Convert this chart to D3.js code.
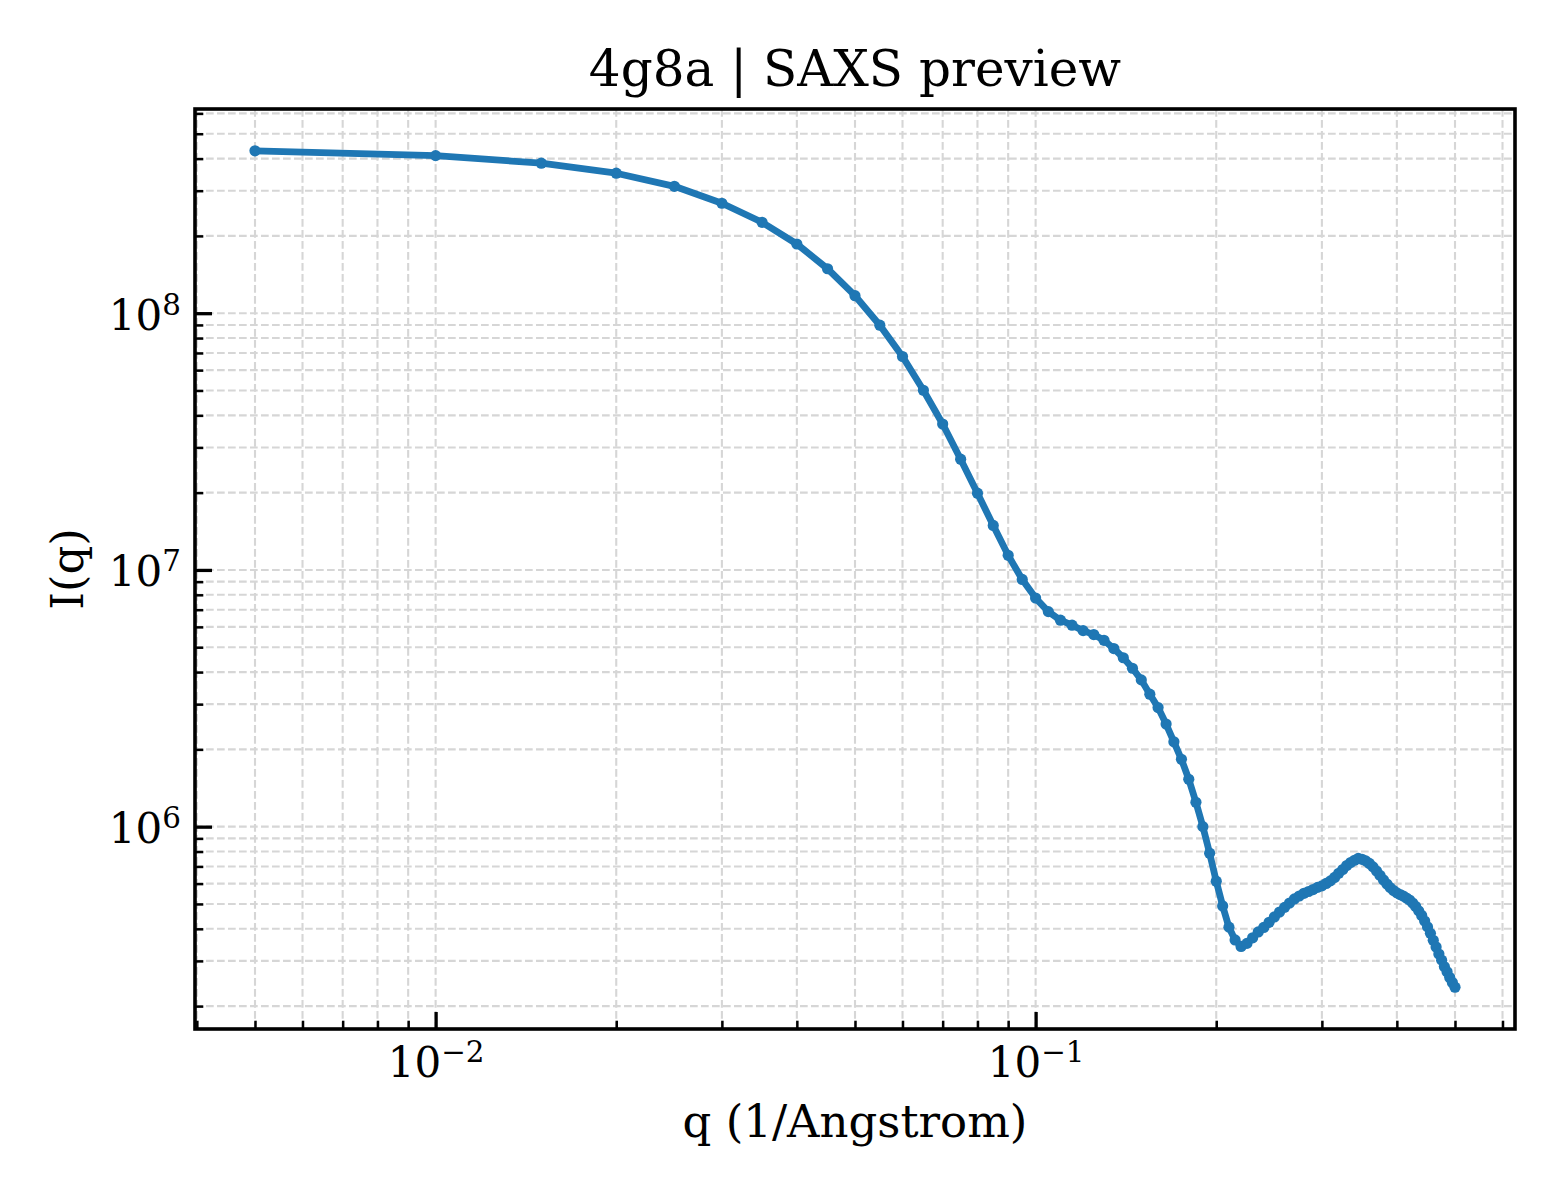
<!DOCTYPE html>
<html>
<head>
<meta charset="utf-8">
<script src="https://cdn.jsdelivr.net/npm/d3@7/dist/d3.min.js"></script>
<style>
  html, body { margin: 0; padding: 0; background: #ffffff; }
  svg { display: block; }
  text { font-family: "DejaVu Serif", serif; fill: #000; }
</style>
</head>
<body>
<svg id="chart" width="1560" height="1200"></svg>
<script>
// ---------------- data ----------------
const title = "4g8a | SAXS preview";
const xLabel = "q (1/Angstrom)";
const yLabel = "I(q)";

const q = [
  0.005, 0.010, 0.015, 0.020, 0.025, 0.030, 0.035, 0.040, 0.045, 0.050,
  0.055, 0.060, 0.065, 0.070, 0.075, 0.080, 0.085, 0.090, 0.095, 0.100,
  0.105, 0.110, 0.115, 0.120, 0.125, 0.130, 0.135, 0.140, 0.145, 0.150,
  0.155, 0.160, 0.165, 0.170, 0.175, 0.180, 0.185, 0.190, 0.195, 0.200,
  0.205, 0.210, 0.215, 0.220, 0.225, 0.230, 0.235, 0.240, 0.245, 0.250,
  0.255, 0.260, 0.265, 0.270, 0.275, 0.280, 0.285, 0.290, 0.295, 0.300,
  0.305, 0.310, 0.315, 0.320, 0.325, 0.330, 0.335, 0.340, 0.345, 0.350,
  0.355, 0.360, 0.365, 0.370, 0.375, 0.380, 0.385, 0.390, 0.395, 0.400,
  0.405, 0.410, 0.415, 0.420, 0.425, 0.430, 0.435, 0.440, 0.445, 0.450,
  0.455, 0.460, 0.465, 0.470, 0.475, 0.480, 0.485, 0.490, 0.495, 0.500
];

const intensity = [
  4.29e8, 4.11e8, 3.84e8, 3.51e8, 3.12e8, 2.68e8, 2.26e8, 1.86e8, 1.49e8, 1.17e8,
  8.98e7, 6.78e7, 5.01e7, 3.70e7, 2.70e7, 1.99e7, 1.49e7, 1.14e7, 9.18e6, 7.77e6,
  6.88e6, 6.37e6, 6.09e6, 5.80e6, 5.60e6, 5.32e6, 4.94e6, 4.55e6, 4.14e6, 3.73e6,
  3.28e6, 2.91e6, 2.51e6, 2.14e6, 1.83e6, 1.53e6, 1.245e6, 1.00e6, 7.88e5, 6.13e5,
  4.91e5, 4.06e5, 3.62e5, 3.415e5, 3.51e5, 3.69e5, 3.89e5, 4.05e5, 4.24e5, 4.45e5,
  4.65e5, 4.85e5, 5.04e5, 5.23e5, 5.37e5, 5.50e5, 5.59e5, 5.69e5, 5.80e5, 5.88e5,
  6.01e5, 6.15e5, 6.34e5, 6.58e5, 6.81e5, 7.06e5, 7.25e5, 7.40e5, 7.52e5, 7.46e5,
  7.36e5, 7.19e5, 6.97e5, 6.72e5, 6.46e5, 6.20e5, 5.98e5, 5.79e5, 5.64e5, 5.52e5,
  5.44e5, 5.37e5, 5.27e5, 5.18e5, 5.04e5, 4.89e5, 4.70e5, 4.51e5, 4.29e5, 4.07e5,
  3.84e5, 3.61e5, 3.40e5, 3.19e5, 3.02e5, 2.85e5, 2.72e5, 2.585e5, 2.47e5, 2.37e5
];

const xMajorTicks = [0.01, 0.1];
const xMajorExponents = ["\u22122", "\u22121"];
const yMajorTicks = [1e6, 1e7, 1e8];
const yMajorExponents = ["6", "7", "8"];

// ---------------- layout ----------------
const W = 1560, H = 1200;
const plot = { left: 195, top: 109, right: 1515, bottom: 1029 };
const lineColor = "#1f77b4";
const gridColor = "#d6d6d6";
const tickFont = 42;
const labelFont = 45;

const svg = d3.select("#chart");

// log-space 5% margins like matplotlib autoscale
function logPadded(ext) {
  const a = Math.log10(ext[0]), b = Math.log10(ext[1]);
  const m = (b - a) * 0.05;
  return [Math.pow(10, a - m), Math.pow(10, b + m)];
}
const x = d3.scaleLog().domain(logPadded(d3.extent(q))).range([plot.left, plot.right]);
const y = d3.scaleLog().domain(logPadded(d3.extent(intensity))).range([plot.bottom, plot.top]);

function minorTicks(scale) {
  const [d0, d1] = scale.domain();
  const out = [];
  for (let k = Math.floor(Math.log10(d0)); k <= Math.ceil(Math.log10(d1)); k++) {
    for (let m = 2; m <= 9; m++) {
      const v = m * Math.pow(10, k);
      if (v >= d0 && v <= d1) out.push(v);
    }
  }
  return out;
}
const xMinor = minorTicks(x);
const yMinor = minorTicks(y);

// ---------------- grid ----------------
const grid = svg.append("g").attr("class", "grid");
grid.selectAll("line.gx").data(xMajorTicks.concat(xMinor)).join("line")
  .attr("x1", d => x(d)).attr("x2", d => x(d))
  .attr("y1", plot.top).attr("y2", plot.bottom)
  .attr("stroke", gridColor).attr("stroke-width", 2.1).attr("stroke-dasharray", "7.7,3.3");
grid.selectAll("line.gy").data(yMajorTicks.concat(yMinor)).join("line")
  .attr("y1", d => y(d)).attr("y2", d => y(d))
  .attr("x1", plot.left).attr("x2", plot.right)
  .attr("stroke", gridColor).attr("stroke-width", 2.1).attr("stroke-dasharray", "7.7,3.3");

// ---------------- data line + markers ----------------
const pts = q.map((v, i) => [v, intensity[i]]);
const line = d3.line().x(d => x(d[0])).y(d => y(d[1]));
svg.append("path").datum(pts)
  .attr("d", line)
  .attr("fill", "none")
  .attr("stroke", lineColor)
  .attr("stroke-width", 6.8)
  .attr("stroke-linejoin", "round")
  .attr("stroke-linecap", "square");
svg.append("g").selectAll("circle").data(pts).join("circle")
  .attr("cx", d => x(d[0])).attr("cy", d => y(d[1]))
  .attr("r", 5.6).attr("fill", lineColor);

// ---------------- axes ----------------
const gxMinor = svg.append("g").attr("transform", `translate(0,${plot.bottom})`)
  .call(d3.axisBottom(x).tickValues(xMinor).tickSizeInner(-8.3).tickSizeOuter(0).tickFormat(() => ""));
gxMinor.selectAll("line").attr("stroke", "#000").attr("stroke-width", 2.5);

const gxMajor = svg.append("g").attr("transform", `translate(0,${plot.bottom})`)
  .call(d3.axisBottom(x).tickValues(xMajorTicks).tickSizeInner(-17).tickSizeOuter(0).tickFormat(() => ""));
gxMajor.selectAll("line").attr("stroke", "#000").attr("stroke-width", 3.3);
gxMajor.selectAll(".tick text").each(function (d, i) {
  const t = d3.select(this);
  t.attr("y", 47.5).attr("dy", 0).attr("font-size", tickFont).attr("text-anchor", "middle")
   .attr("font-family", "DejaVu Serif").attr("fill", "#000");
  t.append("tspan").text("10");
  t.append("tspan").attr("dy", -15).attr("font-size", tickFont * 0.7).text(xMajorExponents[i]);
});

const gyMinor = svg.append("g").attr("transform", `translate(${plot.left},0)`)
  .call(d3.axisLeft(y).tickValues(yMinor).tickSizeInner(-8.3).tickSizeOuter(0).tickFormat(() => ""));
gyMinor.selectAll("line").attr("stroke", "#000").attr("stroke-width", 2.5);

const gyMajor = svg.append("g").attr("transform", `translate(${plot.left},0)`)
  .call(d3.axisLeft(y).tickValues(yMajorTicks).tickSizeInner(-17).tickSizeOuter(0).tickPadding(14).tickFormat(() => ""));
gyMajor.selectAll("line").attr("stroke", "#000").attr("stroke-width", 3.3);
gyMajor.selectAll(".tick text").each(function (d, i) {
  const t = d3.select(this);
  t.attr("dy", 16).attr("font-size", tickFont).attr("text-anchor", "end")
   .attr("font-family", "DejaVu Serif").attr("fill", "#000");
  t.append("tspan").text("10");
  t.append("tspan").attr("dy", -15).attr("font-size", tickFont * 0.7).text(yMajorExponents[i]);
});

svg.selectAll(".domain").remove();

// spines
svg.append("rect")
  .attr("x", plot.left).attr("y", plot.top)
  .attr("width", plot.right - plot.left).attr("height", plot.bottom - plot.top)
  .attr("fill", "none").attr("stroke", "#000").attr("stroke-width", 3.6);

// ---------------- texts ----------------
svg.append("text")
  .attr("x", (plot.left + plot.right) / 2).attr("y", 86)
  .attr("text-anchor", "middle").attr("font-size", 50)
  .text(title);

svg.append("text")
  .attr("x", (plot.left + plot.right) / 2).attr("y", 1137)
  .attr("text-anchor", "middle").attr("font-size", labelFont)
  .text(xLabel);

svg.append("text")
  .attr("transform", `translate(83,${(plot.top + plot.bottom) / 2}) rotate(-90)`)
  .attr("text-anchor", "middle").attr("font-size", labelFont)
  .text(yLabel);
</script>
</body>
</html>
